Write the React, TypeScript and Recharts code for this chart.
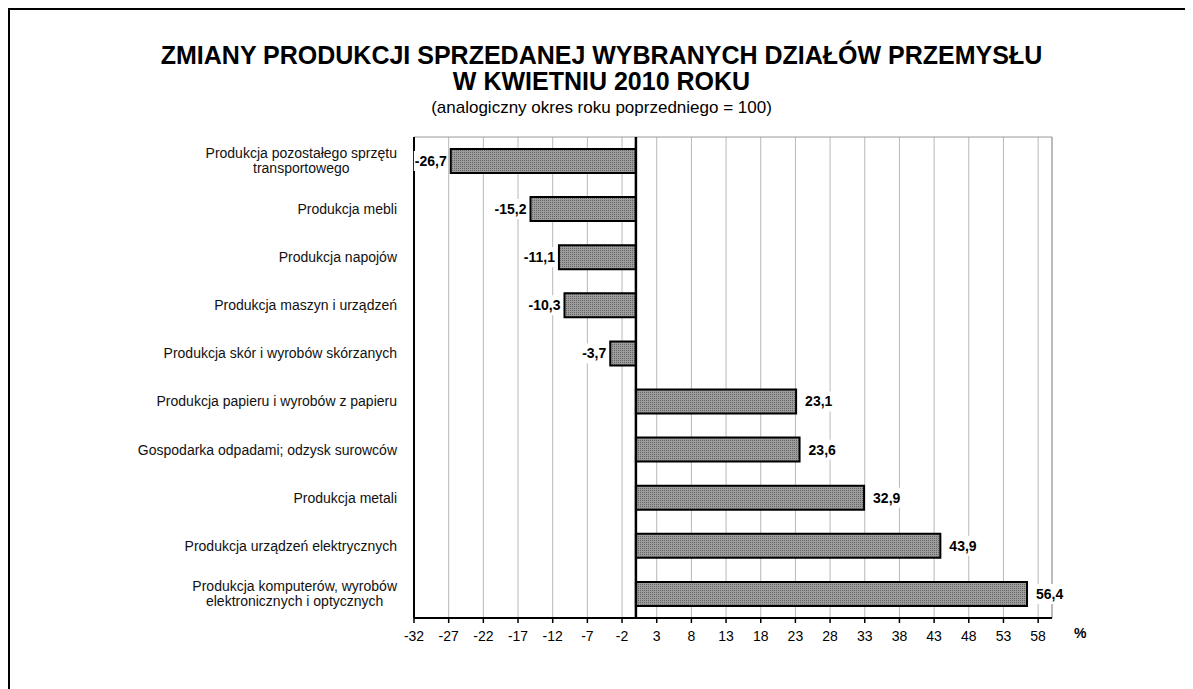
import { BarChart, Bar, XAxis, YAxis, CartesianGrid, ReferenceLine, ReferenceArea, LabelList } from 'recharts';

const FONT = '"Liberation Sans", Arial, sans-serif';

const categories = [
  'Produkcja pozostałego sprzętu\ntransportowego',
  'Produkcja mebli',
  'Produkcja napojów',
  'Produkcja maszyn i urządzeń',
  'Produkcja skór i wyrobów skórzanych',
  'Produkcja papieru i wyrobów z papieru',
  'Gospodarka odpadami; odzysk surowców',
  'Produkcja metali',
  'Produkcja urządzeń elektrycznych',
  'Produkcja komputerów, wyrobów\nelektronicznych i optycznych',
];
const values = [-26.7, -15.2, -11.1, -10.3, -3.7, 23.1, 23.6, 32.9, 43.9, 56.4];
const xTicks = [-32, -27, -22, -17, -12, -7, -2, 3, 8, 13, 18, 23, 28, 33, 38, 43, 48, 53, 58];

const data = categories.map((name, i) => ({ name, value: values[i] }));

let ctx: CanvasRenderingContext2D | null = null;
function textWidth(s: string, font: string) {
  if (!ctx) ctx = document.createElement('canvas').getContext('2d');
  if (!ctx) return s.length * 7;
  ctx.font = font;
  return ctx.measureText(s).width;
}

function CategoryTick(props: any) {
  const { x, y, payload } = props;
  const lines = String(payload.value).split('\n');
  const font = `14px ${FONT}`;
  const w = Math.max(...lines.map((l) => textWidth(l, font)));
  const cx = x - w / 2;
  const lh = 15;
  const top = y - ((lines.length - 1) * lh) / 2;
  return (
    <text x={cx} y={top} textAnchor="middle" fontSize={14} fontFamily={FONT} fill="#111">
      {lines.map((l, i) => (
        <tspan key={i} x={cx} y={top + i * lh} dy="0.35em">
          {l}
        </tspan>
      ))}
    </text>
  );
}

function ValueLabel(props: any) {
  const { x, y, width, height, value } = props;
  const left = Math.min(x, x + width);
  const right = Math.max(x, x + width);
  const txt = String(value).replace('.', ',');
  const font = `bold 14px ${FONT}`;
  const w = textWidth(txt, font);
  const cy = y + height / 2;
  const neg = value < 0;
  const tx = neg ? left - 4 - w : right + 9;
  return (
    <g>
      <rect x={tx - 1} y={cy - 10} width={w + 2} height={20} fill="#fff" />
      <text x={tx} y={cy} dy="0.35em" fontSize={14} fontWeight="bold" fontFamily={FONT} fill="#000">
        {txt}
      </text>
    </g>
  );
}

export default function App() {
  return (
    <div
      style={{
        position: 'relative',
        width: 1183,
        height: 679,
        borderLeft: '2px solid #000',
        borderTop: '2px solid #000',
        fontFamily: FONT,
        background: '#fff',
      }}
    >
      <div style={{ position: 'absolute', left: 0, width: 1183, top: 31, textAlign: 'center', fontSize: 25, fontWeight: 'bold', lineHeight: '28px' }}>
        ZMIANY PRODUKCJI SPRZEDANEJ WYBRANYCH DZIAŁÓW PRZEMYSŁU
      </div>
      <div style={{ position: 'absolute', left: 0, width: 1183, top: 57, textAlign: 'center', fontSize: 25, fontWeight: 'bold', lineHeight: '28px' }}>
        W KWIETNIU 2010 ROKU
      </div>
      <div style={{ position: 'absolute', left: 0, width: 1183, top: 88, textAlign: 'center', fontSize: 17, lineHeight: '20px' }}>
        (analogiczny okres roku poprzedniego = 100)
      </div>
      <BarChart
        width={1183}
        height={679}
        data={data}
        layout="vertical"
        margin={{ top: 127, right: 141, bottom: 41, left: 0 }}
        barSize={24}
      >
        <defs>
          <pattern id="dots" width="2" height="2" patternUnits="userSpaceOnUse">
            <rect width="2" height="2" fill="#9c9c9c" />
            <rect width="1" height="1" fill="#666" />
          </pattern>
        </defs>
        <CartesianGrid horizontal={false} stroke="#b8b8b8" />
        <ReferenceArea x1={-32} x2={60} fill="none" stroke="#9a9a9a" strokeWidth={1} ifOverflow="extendDomain" />
        <XAxis
          type="number"
          domain={[-32, 60]}
          ticks={xTicks}
          interval={0}
          axisLine={{ stroke: '#000', strokeWidth: 2 }}
          tickLine={{ stroke: '#000', strokeWidth: 1.5 }}
          tickSize={5}
          tickMargin={8}
          tick={{ fontSize: 14, fill: '#000', fontFamily: FONT }}
          label={{ value: '%', position: 'right', offset: 22, fontSize: 14, fontWeight: 'bold', fill: '#000', fontFamily: FONT }}
        />
        <YAxis
          type="category"
          dataKey="name"
          width={404}
          axisLine={{ stroke: '#000', strokeWidth: 2 }}
          tickLine={false}
          tickSize={0}
          tickMargin={17}
          interval={0}
          tick={<CategoryTick />}
        />
        <Bar dataKey="value" fill="url(#dots)" stroke="#000" strokeWidth={2} isAnimationActive={false}>
          <LabelList dataKey="value" content={<ValueLabel />} />
        </Bar>
        <ReferenceLine x={0} stroke="#000" strokeWidth={2.5} />
      </BarChart>
    </div>
  );
}
